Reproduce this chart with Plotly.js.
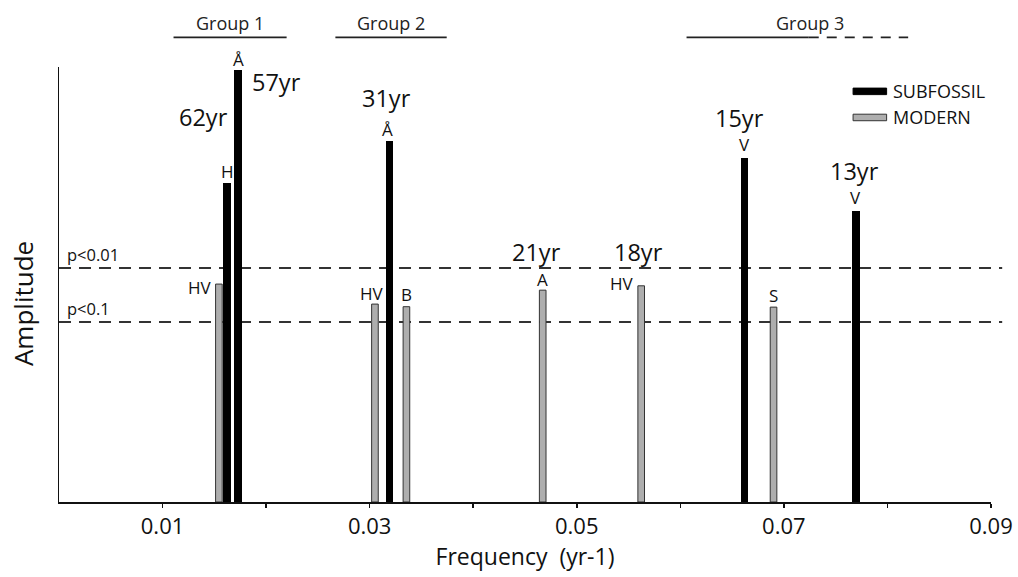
<!DOCTYPE html>
<html>
<head>
<meta charset="utf-8">
<script src="https://cdn.plot.ly/plotly-3.0.1.min.js"></script>
<style>html,body{margin:0;padding:0;background:#fff;}#chart{width:1018px;height:577px;}</style>
</head>
<body>
<div id="chart"></div>
<script>
// ---- DATA ----
const subFreq = [0.01623, 0.01729, 0.03193, 0.0662, 0.07696];
const subAmp  = [0.733, 0.993, 0.831, 0.791, 0.670];
const subCode = ["H", "Å", "Å", "V", "V"];
const subPeriod = ["62yr", "57yr", "31yr", "15yr", "13yr"];

const modFreq = [0.01544, 0.03051, 0.03355, 0.04671, 0.05622, 0.06900];
const modAmp  = [0.501, 0.455, 0.449, 0.487, 0.497, 0.448];
const modCode = ["HV", "HV", "B", "A", "HV", "S"];
const modPeriod = ["", "", "", "21yr", "18yr", ""];

const sigLabels = ["p<0.01", "p<0.1"];
const sigLevels = [0.538, 0.414];

const groupNames = ["Group 1", "Group 2", "Group 3"];
const groupStart = [0.01106, 0.02669, 0.0606];
const groupEnd   = [0.02198, 0.03744, 0.0724];
const groupDashedEnd = [null, null, 0.0820];

const tickVals = [0.01, 0.02, 0.03, 0.04, 0.05, 0.06, 0.07, 0.08, 0.09];
const tickText = ["0.01", "", "0.03", "", "0.05", "", "0.07", "", "0.09"];

const legendNames = ["SUBFOSSIL", "MODERN"];
const xTitle = "Frequency  (yr-1)";
const yTitle = "Amplitude";

// ---- STYLE ----
const FONT = "Open Sans, Noto Sans, sans-serif";
const BLACK = "#000000";
const GRAY = "#aeaeae";
const GRAYLINE = "#333333";

// label offsets (pixels) relative to bar tops
const subCodeOff = [[0, 12], [0, 11], [-2, 11], [0, 13], [0, 13]];
const subPeriodOff = [[-24, 66], [38, -12], [-3, 43], [-5, 40], [-1, 40]];
const modCodeOff = [[-3, -3, 'right'], [-3, 11, 'center'], [0, 12, 'center'], [0, 11, 'center'], [-3, 2, 'right'], [0, 12, 'center']];
const modPeriodOff = [null, null, null, [-6, 38], [-3, 34], null];

const traces = [
  {
    type: 'bar', name: legendNames[1], x: modFreq, y: modAmp, width: 0.00064,
    marker: {color: GRAY, line: {color: GRAYLINE, width: 1}}, showlegend: false
  },
  {
    type: 'bar', name: legendNames[0], x: subFreq, y: subAmp, width: 0.00072,
    marker: {color: BLACK, line: {color: BLACK, width: 0}}, showlegend: false
  }
];

const annotations = [];
const shapes = [];

subFreq.forEach((x, i) => {
  annotations.push({x: x, y: subAmp[i], text: subCode[i], showarrow: false, xanchor: 'center', yanchor: 'middle',
    xshift: subCodeOff[i][0], yshift: subCodeOff[i][1], font: {family: FONT, size: 17, color: '#111'}});
  annotations.push({x: x, y: subAmp[i], text: subPeriod[i], showarrow: false, xanchor: 'center', yanchor: 'middle',
    xshift: subPeriodOff[i][0], yshift: subPeriodOff[i][1], font: {family: FONT, size: 23.5, color: '#111'}});
});
modFreq.forEach((x, i) => {
  const o = modCodeOff[i];
  annotations.push({x: x, y: modAmp[i], text: modCode[i], showarrow: false, xanchor: o[2], yanchor: 'middle',
    xshift: o[2] === 'right' ? o[0] - 2 : o[0], yshift: o[1], font: {family: FONT, size: 17, color: '#111'}});
  if (modPeriod[i]) {
    annotations.push({x: x, y: modAmp[i], text: modPeriod[i], showarrow: false, xanchor: 'center', yanchor: 'middle',
      xshift: modPeriodOff[i][0], yshift: modPeriodOff[i][1], font: {family: FONT, size: 23.5, color: '#111'}});
  }
});

sigLevels.forEach((lv, i) => {
  shapes.push({type: 'line', xref: 'paper', yref: 'y', x0: 0, x1: 1.012, y0: lv, y1: lv,
    line: {color: '#333', width: 2, dash: '12px,8px'}, layer: 'below'});
  annotations.push({xref: 'paper', yref: 'y', x: 0, y: lv, text: sigLabels[i], showarrow: false,
    xanchor: 'left', yanchor: 'middle', xshift: 6, yshift: 13, font: {family: FONT, size: 16.5, color: '#111'}});
});

groupNames.forEach((g, i) => {
  shapes.push({type: 'line', xref: 'x', yref: 'paper', x0: groupStart[i], x1: groupEnd[i], y0: 1.068, y1: 1.068,
    line: {color: '#222', width: 1.6}});
  if (groupDashedEnd[i] !== null) {
    shapes.push({type: 'line', xref: 'x', yref: 'paper', x0: groupEnd[i], x1: groupDashedEnd[i], y0: 1.068, y1: 1.068,
      line: {color: '#222', width: 1.6, dash: '10px,8px'}});
  }
  annotations.push({xref: 'x', yref: 'paper', x: (groupStart[i] + groupEnd[i]) / 2 + (i === 2 ? 0.006 : 0),
    y: 1.068, yanchor: 'bottom', yshift: 0, text: g, showarrow: false,
    font: {family: FONT, size: 18, color: '#222'}});
});

// legend (drawn)
const legendColors = [[BLACK, BLACK], [GRAY, GRAYLINE]];
const legendY = [0.944, 0.884];
legendNames.forEach((n, i) => {
  shapes.push({type: 'rect', xref: 'paper', yref: 'paper', x0: 0.852, x1: 0.888,
    y0: legendY[i] - 0.0075, y1: legendY[i] + 0.0075,
    fillcolor: legendColors[i][0], line: {color: legendColors[i][1], width: 1}});
  annotations.push({xref: 'paper', yref: 'paper', x: 0.8925, y: legendY[i], text: n, showarrow: false,
    xanchor: 'left', yanchor: 'middle', font: {family: FONT, size: 18, color: '#111'}});
});

// y-axis title (placed as in the reference, slightly below the plot centre)
annotations.push({xref: 'paper', yref: 'paper', x: 0, y: 0.455, xanchor: 'center', yanchor: 'middle', xshift: -36,
  text: yTitle, textangle: -90, showarrow: false, font: {family: FONT, size: 26, color: '#111'}});

const layout = {
  width: 1018, height: 577,
  margin: {l: 59, r: 27, t: 67, b: 75, pad: 0},
  paper_bgcolor: '#fff', plot_bgcolor: '#fff',
  barmode: 'overlay', bargap: 0,
  showlegend: false,
  xaxis: {
    range: [0, 0.09], tickvals: tickVals, ticktext: tickText, ticks: 'outside', ticklen: 4, tickwidth: 1.5,
    tickcolor: '#111', showline: true, linecolor: '#111', linewidth: 1.5, showgrid: false, zeroline: false,
    tickfont: {family: FONT, size: 22, color: '#111'},
    title: {text: xTitle, font: {family: FONT, size: 23, color: '#111'}, standoff: 2}
  },
  yaxis: {
    range: [0, 1], showticklabels: false, ticks: '', showline: true, linecolor: '#111', linewidth: 1.5,
    showgrid: false, zeroline: false
  },
  shapes: shapes,
  annotations: annotations
};

Plotly.newPlot('chart', traces, layout, {displayModeBar: false, staticPlot: true});
</script>
</body>
</html>
